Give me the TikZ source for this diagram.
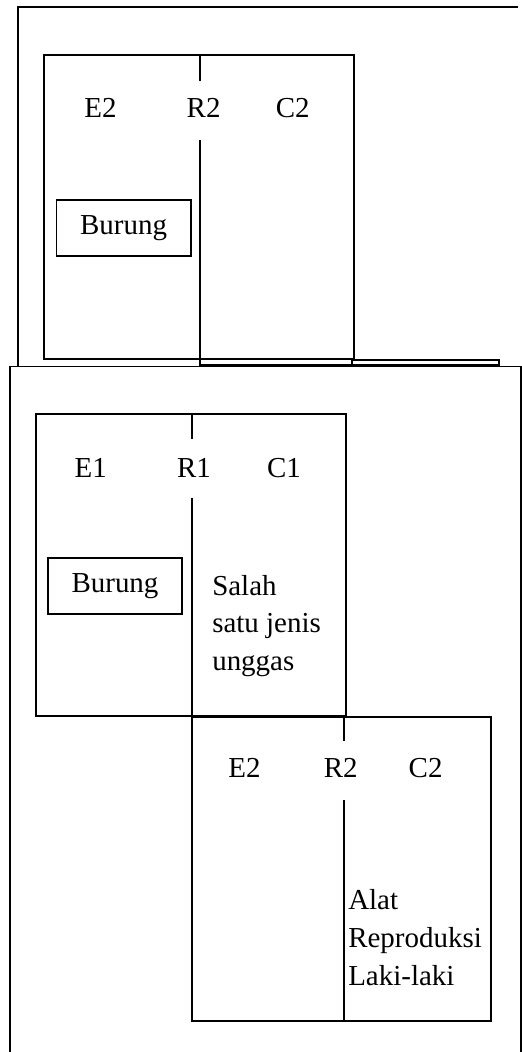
\documentclass[tikz,border=0pt]{standalone}
\usepackage{fontspec}
\setmainfont{Liberation Serif}
\usepackage{tikz}

\tikzset{
    boxline/.style={black, line width=1.1pt},
    lbl/.style={font=\fontsize{20.6}{26.9}\selectfont, inner sep=0pt},
    termbox/.style={boxline, draw, minimum width=3.36cm, minimum height=1.4cm,
                    font=\fontsize{20.6}{26.9}\selectfont}
}

\begin{document}
\begin{tikzpicture}
\useasboundingbox (0,0) rectangle (13.05,-26.3);

% -------- Upper frame (open at the right) -------------------
\draw[boxline, line width=1.6pt, line cap=butt] (0.45,-9.15) -- (0.45,-0.18) -- (12.95,-0.18);

% -------- First E2 / R2 / C2 box ----------------------------
\draw[boxline] (1.1,-1.375) rectangle (8.85,-8.975);
\node[lbl] (e2top) at (2.51,-2.69) {E2};
\node[lbl] (r2top) at (5.09,-2.69) {R2};
\node[lbl] (c2top) at (7.32,-2.69) {C2};
% divider, broken where the R label sits
\draw[boxline] (5.0,-1.375) -- (5.0,-2.025);
\draw[boxline] (5.0,-3.5) -- (5.0,-8.975);
\node[termbox] (burungtop) at (3.09,-5.7) {Burung};

% thin strip under the box
\draw[boxline] (5.0,-8.975) rectangle (8.8,-9.13);
\draw[boxline] (8.8,-9.0) rectangle (12.475,-9.13);

% -------- Lower frame (open at the bottom) ------------------
\draw[boxline] (0.25,-26.4) -- (0.25,-9.16) -- (13.02,-9.16) -- (13.02,-26.4);

% -------- E1 / R1 / C1 box ----------------------------------
\draw[boxline] (0.9,-10.35) rectangle (8.65,-17.9);
\node[lbl] (e1) at (2.27,-11.69) {E1};
\node[lbl] (r1) at (4.85,-11.69) {R1};
\node[lbl] (c1) at (7.1,-11.69) {C1};
\draw[boxline] (4.8,-10.35) -- (4.8,-10.975);
\draw[boxline] (4.8,-12.45) -- (4.8,-17.9);
\node[termbox, minimum width=3.35cm] (burung) at (2.875,-14.65) {Burung};
\node[lbl, align=left, anchor=north west] (salah) at (5.3,-14.37)
    {Salah\\satu jenis\\unggas};

% -------- Second E2 / R2 / C2 box ---------------------------
\draw[boxline] (4.8,-17.925) rectangle (12.275,-25.525);
\node[lbl] (e2) at (6.11,-19.2) {E2};
\node[lbl] (r2) at (8.52,-19.2) {R2};
\node[lbl] (c2) at (10.64,-19.2) {C2};
\draw[boxline] (8.6,-17.925) -- (8.6,-18.525);
\draw[boxline] (8.6,-20.0) -- (8.6,-25.525);
\node[lbl, align=left, anchor=north west] (alat) at (8.7,-22.23)
    {Alat\\Reproduksi\\Laki-laki};

\end{tikzpicture}
\end{document}
